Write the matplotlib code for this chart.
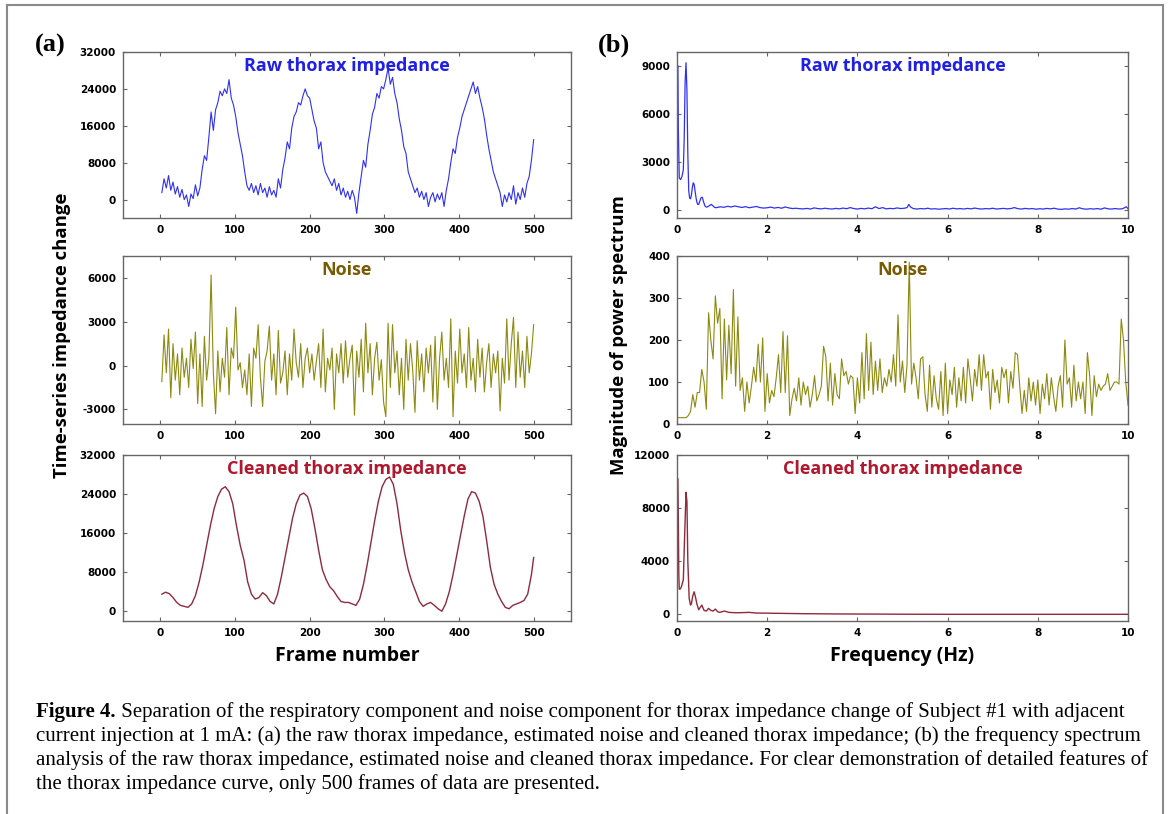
import numpy as np
import matplotlib

matplotlib.use("Agg")
import matplotlib.pyplot as plt
from matplotlib.lines import Line2D

plt.rcParams["axes.unicode_minus"] = False

# ---- data ---------------------------------------------------------------
# (a) time series, values in units of 1000 (impedance change)
raw_k = [1.5, 4.5, 2.5, 5.2, 2.0, 3.8, 1.2, 2.8, 0.5, 2.2, 0.0, 1.0, -1.5, 1.2,
         0.2, 3.2, 0.8, 2.5, 6.5, 9.5, 8.5, 13.5, 19.0, 15.0, 19.5, 21.0, 23.5,
         22.5, 24.0, 23.0, 26.0, 22.0, 20.5, 18.0, 14.5, 12.0, 9.5, 6.0, 3.0,
         2.0, 3.5, 1.5, 3.0, 1.0, 3.5, 1.5, 2.5, 0.5, 2.8, 1.0, 2.0, 0.5, 4.5,
         2.5, 6.5, 9.0, 12.5, 11.0, 15.5, 18.0, 19.0, 21.0, 20.5, 22.5, 24.0,
         22.5, 22.0, 19.5, 17.0, 15.5, 11.0, 12.5, 8.0, 6.0, 5.0, 4.0, 3.0, 4.5,
         2.0, 3.5, 1.0, 2.5, 0.5, 1.8, 0.0, 2.0, 0.5, -3.0, 1.5, 5.0, 8.5, 7.0,
         12.0, 15.0, 18.5, 20.0, 23.0, 22.0, 24.5, 24.0, 26.0, 28.5, 25.0, 26.5,
         23.0, 21.0, 17.5, 15.0, 11.5, 10.0, 6.0, 4.5, 3.0, 1.5, 2.5, 0.5, 1.8,
         0.0, 1.5, -1.5, 0.5, 1.5, -0.5, 1.2, 0.0, 1.5, -1.5, 2.0, 4.5, 8.0,
         11.0, 10.0, 13.5, 15.5, 18.0, 19.5, 21.0, 22.5, 24.0, 25.5, 23.0, 24.5,
         22.0, 20.0, 17.5, 14.0, 11.0, 8.5, 6.0, 4.5, 3.0, 1.5, -1.5, 1.0, -0.5,
         1.5, 0.0, 3.0, -1.0, 1.5, 0.0, 2.5, 0.5, 3.5, 5.0, 8.5, 13.0]

noise_k = [-1.1, 2.1, -0.5, 2.5, -2.2, 1.5, -1.0, 0.8, -2.0, 1.2, -0.8, 0.5,
           -1.5, 1.8, -0.2, 2.3, -2.6, 0.8, -2.8, 2.0, -1.0, 0.5, 6.2, -0.5,
           -3.3, 1.0, -1.8, 0.5, -0.8, 2.6, -2.0, 1.2, 0.5, 4.0, -0.3, 0.2,
           -1.5, -0.3, -2.0, 0.8, -2.8, 1.2, 0.5, 2.8, -0.8, -2.8, 0.3, 1.0,
           2.7, -1.0, 0.8, -2.0, 2.4, -1.2, -0.5, 1.0, -2.0, 0.8, -1.0, 2.5,
           0.2, -0.8, 1.5, -1.5, 0.5, 1.2, -0.5, 0.8, -1.0, 0.3, 1.5, -1.5,
           2.5, -1.8, 0.5, -0.3, 1.2, -3.0, 0.8, -0.5, 1.5, -1.2, 1.7, -0.8,
           0.5, 1.4, -3.4, 1.0, -0.8, 1.8, -1.8, 2.9, -0.5, 1.5, -2.0, 0.5,
           1.6, -1.0, 0.4, -2.5, -3.5, 2.9, -1.5, 2.8, -0.5, 1.0, -2.0, 0.5,
           -3.0, 1.8, -1.0, 1.5, -0.3, -3.2, 1.7, -1.0, 0.8, -1.8, 1.2, -0.5,
           1.4, -2.5, 2.0, -3.0, 0.5, 2.3, -1.0, 0.5, -1.5, 3.2, -3.5, 1.0,
           -1.2, 2.5, -0.5, 0.8, -1.5, 2.6, -1.0, 0.5, -1.8, 1.8, -0.8, 1.2,
           -1.8, 0.2, 1.5, -1.5, 0.8, -0.5, 1.0, -3.1, 0.5, -1.2, 3.2, -1.0,
           1.5, 3.3, -1.5, 2.3, -0.8, 1.0, -1.5, 2.0, -0.5, 0.8, 2.8]

clean_k = [3.5, 3.9, 3.6, 2.8, 1.8, 1.2, 1.0, 0.8, 1.5, 3.2, 6.0, 9.5, 13.5,
           17.5, 21.0, 23.5, 25.0, 25.5, 24.5, 22.0, 17.5, 13.5, 10.5, 6.0, 3.5,
           2.5, 2.8, 3.8, 3.2, 2.0, 1.5, 3.5, 7.0, 11.0, 15.0, 19.0, 22.0, 23.8,
           24.2, 23.5, 21.0, 17.0, 12.5, 8.5, 6.5, 5.0, 4.2, 3.0, 2.0, 1.8, 1.8,
           1.5, 1.2, 2.5, 5.5, 9.5, 14.0, 18.5, 22.5, 25.5, 27.0, 27.5, 26.0,
           22.0, 16.5, 12.0, 8.5, 6.0, 4.0, 2.0, 1.0, 1.5, 1.8, 1.2, 0.5, 0.0,
           1.5, 4.0, 7.5, 11.5, 15.5, 19.5, 23.0, 24.5, 24.2, 22.5, 19.5, 14.5,
           9.0, 5.5, 3.5, 2.0, 0.8, 0.5, 1.2, 1.5, 1.8, 2.2, 3.5, 7.5, 11.0]

# (b) magnitude spectra
raw_spec_f = [0.02, 0.03, 0.05, 0.08, 0.11, 0.14, 0.16, 0.18, 0.20, 0.22, 0.24,
              0.26, 0.28, 0.30, 0.32, 0.34, 0.36, 0.38, 0.40, 0.42, 0.44, 0.46,
              0.48, 0.50, 0.53, 0.56, 0.59, 0.62, 0.65, 0.68, 0.72, 0.76, 0.80,
              0.84, 0.88, 0.96, 1.04, 1.12, 1.20, 1.28, 1.36, 1.44, 1.52, 1.60,
              1.68, 1.76, 1.84, 1.92, 2.00, 2.08, 2.16, 2.24, 2.32, 2.40, 2.48,
              2.56, 2.64, 2.72, 2.80, 2.88, 2.96, 3.04, 3.12, 3.20, 3.28, 3.36,
              3.44, 3.52, 3.60, 3.68, 3.76, 3.84, 3.92, 4.00, 4.08, 4.16, 4.24,
              4.32, 4.40, 4.48, 4.56, 4.64, 4.72, 4.80, 4.88, 4.96, 5.04, 5.10,
              5.14, 5.18, 5.24, 5.32, 5.40, 5.48, 5.56, 5.64, 5.72, 5.80, 5.88,
              5.96, 6.04, 6.12, 6.20, 6.28, 6.36, 6.44, 6.52, 6.60, 6.68, 6.76,
              6.84, 6.92, 7.00, 7.08, 7.16, 7.24, 7.32, 7.40, 7.48, 7.56, 7.64,
              7.72, 7.80, 7.88, 7.96, 8.04, 8.12, 8.20, 8.28, 8.36, 8.44, 8.52,
              8.60, 8.68, 8.76, 8.84, 8.92, 9.00, 9.08, 9.16, 9.24, 9.32, 9.40,
              9.48, 9.56, 9.64, 9.72, 9.80, 9.88, 9.96, 10.00]
raw_spec_v = [9000, 5000, 2000, 1900, 2100, 2500, 4500, 8000, 9200, 7500, 3500,
              1200, 750, 700, 950, 1400, 1700, 1600, 1200, 800, 500, 350, 350,
              500, 750, 800, 500, 250, 180, 200, 280, 350, 250, 150, 150, 200,
              170, 230, 190, 250, 200, 160, 210, 140, 180, 220, 150, 120, 140,
              180, 120, 160, 110, 190, 130, 90, 110, 80, 70, 100, 60, 130, 90,
              70, 110, 80, 60, 100, 70, 120, 80, 150, 90, 60, 100, 70, 120, 80,
              200, 90, 150, 70, 100, 80, 130, 90, 110, 150, 350, 180, 90, 60, 90,
              70, 110, 60, 80, 50, 70, 90, 60, 110, 70, 90, 60, 100, 70, 120, 80,
              60, 90, 70, 110, 60, 80, 100, 70, 90, 150, 80, 60, 100, 70, 90, 50,
              80, 60, 100, 70, 110, 60, 40, 70, 50, 90, 60, 140, 70, 50, 80, 60,
              90, 50, 130, 70, 60, 90, 60, 80, 200, 80]

noise_spec_df = 0.05
noise_spec_v = [15, 15, 15, 15, 15, 20, 30, 70, 40, 75, 75, 130, 100, 35, 265,
                200, 155, 305, 240, 275, 60, 250, 105, 235, 120, 320, 90, 255,
                80, 110, 30, 100, 50, 90, 135, 100, 190, 100, 205, 30, 120, 50,
                80, 65, 110, 165, 75, 220, 75, 210, 20, 60, 85, 55, 110, 45, 100,
                70, 90, 40, 70, 115, 55, 70, 90, 185, 160, 55, 145, 45, 120, 70,
                60, 155, 115, 125, 95, 115, 110, 25, 110, 50, 170, 60, 215, 80,
                195, 70, 150, 80, 155, 75, 110, 90, 130, 100, 165, 90, 260, 100,
                150, 75, 140, 385, 95, 145, 110, 60, 155, 160, 70, 30, 140, 40,
                115, 60, 35, 125, 20, 145, 25, 105, 70, 135, 40, 110, 55, 135,
                50, 155, 110, 55, 130, 90, 165, 80, 165, 110, 125, 35, 130, 75,
                105, 50, 135, 110, 130, 50, 125, 85, 170, 165, 90, 25, 80, 30,
                110, 55, 100, 45, 105, 25, 95, 60, 120, 45, 110, 65, 30, 90, 115,
                40, 200, 95, 110, 40, 140, 55, 100, 60, 100, 25, 170, 115, 20,
                115, 65, 95, 80, 90, 95, 120, 80, 90, 100, 100, 95, 250, 200, 100,
                45]

clean_spec_f = [0.02, 0.03, 0.04, 0.05, 0.07, 0.10, 0.14, 0.17, 0.20, 0.22, 0.24,
                0.27, 0.30, 0.32, 0.35, 0.38, 0.41, 0.44, 0.48, 0.51, 0.55, 0.60,
                0.65, 0.70, 0.75, 0.80, 0.85, 0.90, 0.95, 1.05, 1.15, 1.30, 1.45,
                1.60, 1.75, 2.00, 2.40, 2.80, 3.20, 3.60, 4.00, 4.50, 5.00, 6.00,
                7.00, 8.00, 9.00, 10.00]
clean_spec_v = [10200, 7000, 3000, 1900, 1900, 2100, 2600, 6000, 9200, 8500,
                4000, 1200, 700, 800, 1400, 1700, 1300, 800, 350, 500, 700, 300,
                250, 450, 300, 250, 400, 200, 150, 250, 150, 120, 130, 150, 100,
                90, 70, 50, 40, 30, 25, 20, 10, 5, 5, 5, 5, 5]

frames_raw = np.arange(len(raw_k)) * 3 + 2
frames_noise = np.arange(len(noise_k)) * 3 + 2
frames_clean = np.minimum(np.arange(len(clean_k)) * 5 + 2, 500)
freq_noise = np.arange(len(noise_spec_v)) * noise_spec_df

C_RAW, C_NOISE, C_CLEAN = "#3030f5", "#8c8a10", "#8e2a3c"
T_RAW, T_NOISE, T_CLEAN = "#1f1fe6", "#7a5a00", "#b0182e"

W, H = 1170, 814
fig = plt.figure(figsize=(W / 100, H / 100), dpi=100)


def box(l, t, r, b):
    return [l / W, 1 - b / H, (r - l) / W, (b - t) / H]


def style(ax):
    for s in ax.spines.values():
        s.set_color("#666666")
        s.set_linewidth(1.0)
    ax.tick_params(direction="in", top=True, right=True, length=3,
                   width=0.8, color="#666666", labelsize=7.5, pad=5)
    for lab in ax.get_xticklabels() + ax.get_yticklabels():
        lab.set_fontweight("bold")


def title(ax, text, color):
    ax.text(0.5, 0.97, text, transform=ax.transAxes, ha="center", va="top",
            fontsize=13, fontweight="bold", color=color, family="Open Sans")


rows = [(52, 218), (256, 424), (455, 621)]

# (a) time series
a1 = fig.add_axes(box(123, rows[0][0], 571, rows[0][1]))
a1.plot(frames_raw, np.array(raw_k) * 1000, color=C_RAW, lw=0.8)
a1.set_ylim(-4000, 32000)
a1.set_yticks([0, 8000, 16000, 24000, 32000])
title(a1, "Raw thorax impedance", T_RAW)

a2 = fig.add_axes(box(123, rows[1][0], 571, rows[1][1]))
a2.plot(frames_noise, np.array(noise_k) * 1000, color=C_NOISE, lw=0.8)
a2.set_ylim(-4000, 7500)
a2.set_yticks([-3000, 0, 3000, 6000])
title(a2, "Noise", T_NOISE)

a3 = fig.add_axes(box(123, rows[2][0], 571, rows[2][1]))
a3.plot(frames_clean, np.array(clean_k) * 1000, color=C_CLEAN, lw=1.0)
a3.set_ylim(-2000, 32000)
a3.set_yticks([0, 8000, 16000, 24000, 32000])
title(a3, "Cleaned thorax impedance", T_CLEAN)
a3.set_xlabel("Frame number", fontsize=14, fontweight="bold",
              family="Open Sans", labelpad=6)

for ax in (a1, a2, a3):
    ax.set_xlim(-50, 550)
    ax.set_xticks([0, 100, 200, 300, 400, 500])
    style(ax)

# (b) spectra
b1 = fig.add_axes(box(677, rows[0][0], 1128, rows[0][1]))
b1.plot(raw_spec_f, raw_spec_v, color=C_RAW, lw=0.9)
b1.set_ylim(-500, 9870)
b1.set_yticks([0, 3000, 6000, 9000])
title(b1, "Raw thorax impedance", T_RAW)

b2 = fig.add_axes(box(677, rows[1][0], 1128, rows[1][1]))
b2.plot(freq_noise, noise_spec_v, color=C_NOISE, lw=0.8)
b2.set_ylim(0, 400)
b2.set_yticks([0, 100, 200, 300, 400])
title(b2, "Noise", T_NOISE)

b3 = fig.add_axes(box(677, rows[2][0], 1128, rows[2][1]))
b3.plot(clean_spec_f, clean_spec_v, color=C_CLEAN, lw=1.0)
b3.set_ylim(-500, 12000)
b3.set_yticks([0, 4000, 8000, 12000])
title(b3, "Cleaned thorax impedance", T_CLEAN)
b3.set_xlabel("Frequency (Hz)", fontsize=14, fontweight="bold",
              family="Open Sans", labelpad=6)

for ax in (b1, b2, b3):
    ax.set_xlim(0, 10)
    ax.set_xticks([0, 2, 4, 6, 8, 10])
    style(ax)

fig.text(62 / W, 1 - 335 / H, "Time-series impedance change", rotation=90,
         ha="center", va="center", fontsize=13.3, fontweight="bold",
         family="Open Sans")
fig.text(619 / W, 1 - 335 / H, "Magnitude of power spectrum", rotation=90,
         ha="center", va="center", fontsize=13.3, fontweight="bold",
         family="Open Sans")

fig.text(35 / W, 1 - 45 / H, "(a)", fontsize=19, fontweight="bold",
         family="Liberation Serif", va="center")
fig.text(598 / W, 1 - 45 / H, "(b)", fontsize=19, fontweight="bold",
         family="Liberation Serif", va="center")

# outer frame (no bottom edge)
frame_c = "#8a8a8a"
fig.add_artist(Line2D([7 / W, 7 / W], [0, 1 - 5 / H], color=frame_c, lw=1.5,
                      transform=fig.transFigure))
fig.add_artist(Line2D([1163 / W, 1163 / W], [0, 1 - 5 / H], color=frame_c,
                      lw=1.5, transform=fig.transFigure))
fig.add_artist(Line2D([7 / W, 1163 / W], [1 - 5 / H, 1 - 5 / H], color=frame_c,
                      lw=1.5, transform=fig.transFigure))

# caption
cap = [
    ("Figure 4.", " Separation of the respiratory component and noise component "
     "for thorax impedance change of Subject #1 with adjacent"),
    ("", "current injection at 1 mA: (a) the raw thorax impedance, estimated "
     "noise and cleaned thorax impedance; (b) the frequency spectrum"),
    ("", "analysis of the raw thorax impedance, estimated noise and cleaned "
     "thorax impedance. For clear demonstration of detailed features of"),
    ("", "the thorax impedance curve, only 500 frames of data are presented."),
]
renderer = fig.canvas.get_renderer()
for i, (bold, rest) in enumerate(cap):
    y = 1 - (712 + i * 24) / H
    x = 36 / W
    if bold:
        t = fig.text(x, y, bold, fontsize=15, fontweight="bold",
                     family="Liberation Serif", va="center")
        bb = t.get_window_extent(renderer)
        x = bb.x1 / W
    fig.text(x, y, rest, fontsize=15, family="Liberation Serif", va="center")

fig.savefig("out.png", dpi=100)
